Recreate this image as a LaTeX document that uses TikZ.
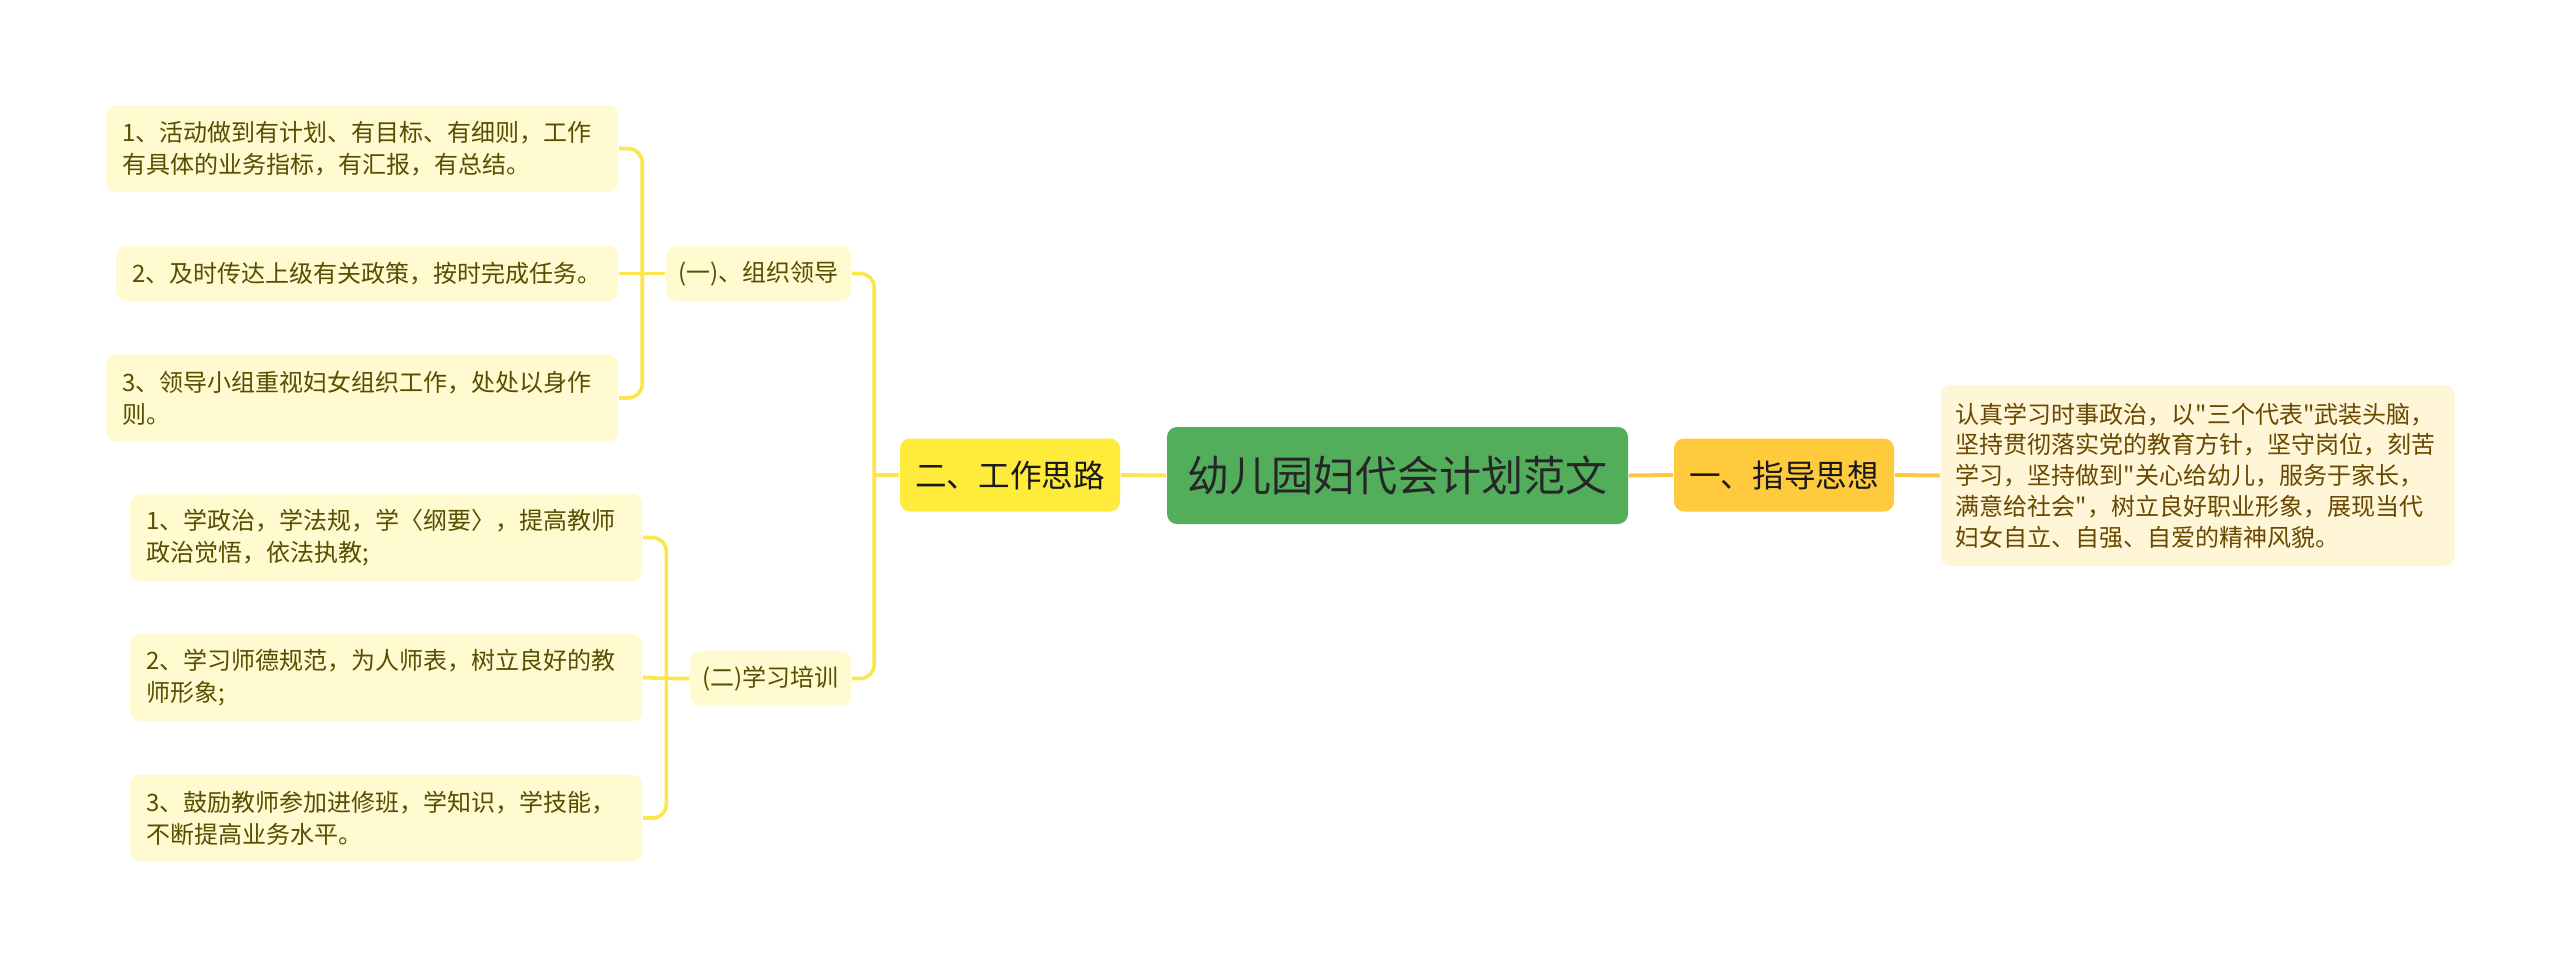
\documentclass[tikz,border=0pt]{standalone}
\usepackage{fontspec}
\newfontfamily\cjk{Noto Sans CJK SC}
\usetikzlibrary{positioning}

\definecolor{rootgreen}{RGB}{83,174,92}
\definecolor{workyellow}{RGB}{255,235,59}
\definecolor{guideorange}{RGB}{255,202,60}
\definecolor{leafcream}{RGB}{255,250,208}
\definecolor{notecream}{RGB}{255,245,215}
\definecolor{olivetext}{RGB}{88,78,0}
\definecolor{browntext}{RGB}{105,72,0}
\definecolor{linkyellow}{RGB}{253,230,75}
\definecolor{linkorange}{RGB}{252,200,62}

\tikzset{
  root/.style={fill=rootgreen, rounded corners=2.5pt, text=black!85,
    font=\cjk\fontsize{10.5}{12}\selectfont,
    minimum width=115.25pt, minimum height=24.25pt, inner sep=0pt},
  branch/.style={rounded corners=2.5pt, text=black!90,
    font=\cjk\fontsize{7.9}{9}\selectfont,
    minimum width=55pt, minimum height=18.25pt, inner sep=0pt},
  topic/.style={fill=leafcream, rounded corners=2.5pt, text=olivetext,
    font=\cjk\fontsize{6}{8}\selectfont,
    minimum height=13.75pt, inner sep=0pt, anchor=east},
  leaf/.style={fill=leafcream, rounded corners=2.5pt, text=olivetext,
    font=\cjk\fontsize{6}{8}\selectfont, align=left, text width=120pt,
    minimum height=21.75pt, inner xsep=4pt, inner ysep=0pt, anchor=east},
  note/.style={fill=notecream, rounded corners=2.5pt, text=browntext,
    font=\cjk\fontsize{6}{7.7}\selectfont, align=left, text width=121pt,
    minimum height=45.25pt, inner xsep=3.75pt, inner ysep=0pt, anchor=west},
  link/.style={draw=linkyellow, line width=0.9pt, rounded corners=3.5pt},
  guidelink/.style={draw=linkorange, line width=1pt},
}

\begin{document}
\begin{tikzpicture}[x=0.25pt, y=-0.25pt]
\useasboundingbox (0,0) rectangle (2560,967);

% centre and main branches
\node[root]                    (root)  at (1397.5,475.5) {幼儿园妇代会计划范文};
\node[branch, fill=workyellow]  (work)  at (1010,475)     {二、工作思路};
\node[branch, fill=guideorange] (guide) at (1784,475)     {一、指导思想};
\node[note]                    (note)  at (1940,475.5)   {认真学习时事政治，以"三个代表"武装头脑，\\坚持贯彻落实党的教育方针，坚守岗位，刻苦\\学习，坚持做到"关心给幼儿，服务于家长，\\满意给社会"，树立良好职业形象，展现当代\\妇女自立、自强、自爱的精神风貌。};

% second level
\node[topic, minimum width=46.25pt] (org)   at (852,273.5) {(一)、组织领导};
\node[topic, minimum width=40.25pt] (study) at (852,678.5) {(二)学习培训};

% leaves
\node[leaf] (org1) at (619,148.5) {1、活动做到有计划、有目标、有细则，工作\\有具体的业务指标，有汇报，有总结。};
\node[leaf, text width=117.5pt, minimum height=13.75pt] (org2) at (619,273.5) {2、及时传达上级有关政策，按时完成任务。};
\node[leaf] (org3) at (619,398) {3、领导小组重视妇女组织工作，处处以身作\\则。};
\node[leaf] (study1) at (643,537.5) {1、学政治，学法规，学〈纲要〉，提高教师\\政治觉悟，依法执教;};
\node[leaf] (study2) at (643,677.5) {2、学习师德规范，为人师表，树立良好的教\\师形象;};
\node[leaf] (study3) at (643,818) {3、鼓励教师参加进修班，学知识，学技能，\\不断提高业务水平。};

% connectors
\draw[link, line width=1pt] (root.west) -- (work.east);
\draw[guidelink] (root.east) -- (guide.west);
\draw[guidelink] (guide.east) -- (note.west);
\draw[link] (work.west) -- ++(-25,0) coordinate (workfork);
\draw[link] (org.west) -- (org2.east) coordinate[pos=0.5] (orgfork);
\draw[link] (study.west) -- ++(-23,0) coordinate (studyfork) -- (study2.east);
\foreach \t in {org,study}
  \draw[link] (workfork) |- (\t.east);
\foreach \l in {org1,org3}
  \draw[link] (orgfork) |- (\l.east);
\foreach \l in {study1,study3}
  \draw[link] (studyfork) |- (\l.east);
\end{tikzpicture}
\end{document}
